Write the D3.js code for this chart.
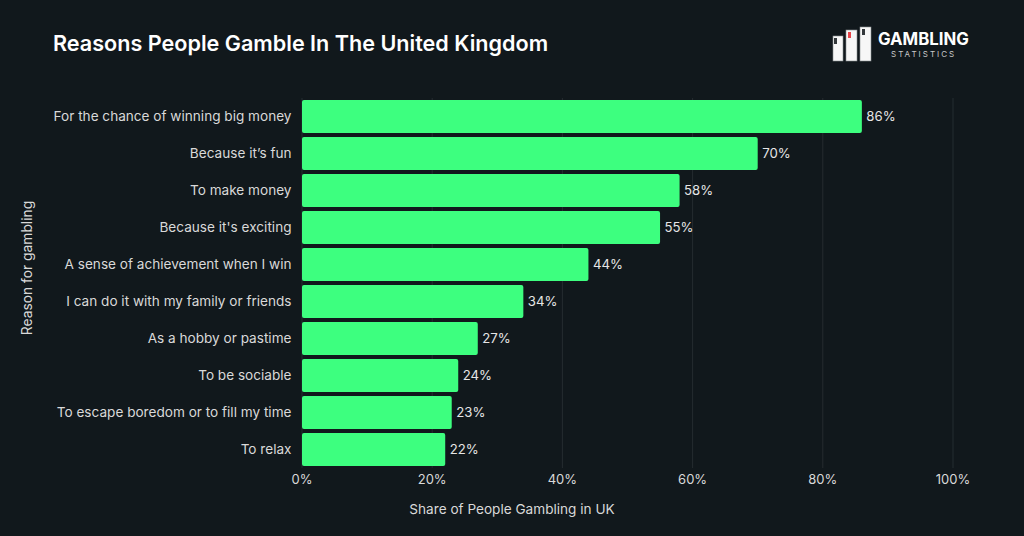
<!DOCTYPE html>
<html>
<head>
<meta charset="utf-8">
<script src="https://cdnjs.cloudflare.com/ajax/libs/d3/7.8.5/d3.min.js"></script>
<style>
  html, body { margin: 0; padding: 0; background: #11181c; }
  text { font-family: Inter, sans-serif; }
</style>
</head>
<body>
<svg id="chart" width="1024" height="536"></svg>
<script>
var reasons = ["For the chance of winning big money", "Because it\u2019s fun", "To make money", "Because it's exciting",
    "A sense of achievement when I win", "I can do it with my family or friends", "As a hobby or pastime",
    "To be sociable", "To escape boredom or to fill my time", "To relax"];
var shares = [86, 70, 58, 55, 44, 34, 27, 24, 23, 22];
var xTicks = [0, 20, 40, 60, 80, 100];

var svg = d3.select('#chart');
svg.append('rect').attr('width', 1024).attr('height', 536).attr('fill', '#11181c');

var x = d3.scaleLinear().domain([0, 100]).range([302, 953]);
var y = d3.scaleBand().domain(reasons).range([98, 468]).paddingInner(0.11).paddingOuter(0.055);

// gridlines
svg.selectAll('.grid').data(xTicks).enter().append('line')
    .attr('x1', d => x(d)).attr('x2', d => x(d))
    .attr('y1', 98).attr('y2', 468)
    .attr('stroke', '#252c30').attr('stroke-width', 1);

svg.selectAll('.bar').data(reasons).enter().append('rect')
    .attr('x', x(0))
    .attr('y', d => y(d))
    .attr('width', (d, i) => x(shares[i]) - x(0))
    .attr('height', y.bandwidth())
    .attr('rx', 2)
    .attr('fill', '#3dff7f');

svg.selectAll('.val').data(reasons).enter().append('text')
    .attr('x', (d, i) => x(shares[i]) + 4.5)
    .attr('y', d => y(d) + y.bandwidth() / 2 + 4.5)
    .attr('fill', '#e6e6e6').attr('font-size', 13.2)
    .text((d, i) => shares[i] + '%');

svg.selectAll('.cat').data(reasons).enter().append('text')
    .attr('x', 291.5)
    .attr('y', d => y(d) + y.bandwidth() / 2 + 4)
    .attr('text-anchor', 'end')
    .attr('fill', '#d9d9d9').attr('font-size', 13.6)
    .text(d => d);

svg.selectAll('.tick-label').data(xTicks).enter().append('text')
    .attr('x', d => x(d)).attr('y', 484)
    .attr('text-anchor', 'middle')
    .attr('fill', '#d9d9d9').attr('font-size', 13)
    .text(d => d + '%');

svg.append('text').attr('x', 512).attr('y', 514).attr('text-anchor', 'middle')
    .attr('fill', '#d9d9d9').attr('font-size', 13.6)
    .text('Share of People Gambling in UK');

svg.append('text').attr('transform', 'translate(32,268) rotate(-90)').attr('text-anchor', 'middle')
    .attr('fill', '#d9d9d9').attr('font-size', 13.8)
    .text('Reason for gambling');

svg.append('text').attr('x', 53).attr('y', 51)
    .attr('fill', '#ffffff').attr('font-size', 21.6).attr('font-weight', 600)
    .text('Reasons People Gamble In The United Kingdom');

// logo
var logo = svg.append('g');
logo.selectAll('.card').data([[833, 36, 10, 25], [846, 30, 11, 31], [860, 27, 11, 34]]).enter().append('rect')
    .attr('x', d => d[0]).attr('y', d => d[1]).attr('width', d => d[2]).attr('height', d => d[3])
    .attr('stroke', '#8b8f91').attr('stroke-width', 0.6).attr('fill', '#f7f7f7');
logo.selectAll('.pip').data([[834, 38, '#33383b'], [848, 32, '#e8454a'], [862, 29, '#33383b']]).enter().append('rect')
    .attr('x', d => d[0]).attr('y', d => d[1]).attr('width', 3).attr('height', 6)
    .attr('fill', d => d[2]);
logo.append('text').attr('x', 878).attr('y', 45).attr('fill', '#ffffff')
    .attr('font-size', 16.8).attr('font-weight', 700).text('GAMBLING');
logo.append('text').attr('x', 891).attr('y', 57).attr('fill', '#c9c9c9')
    .attr('font-size', 8).attr('letter-spacing', 2).text('STATISTICS');
</script>
</body>
</html>
